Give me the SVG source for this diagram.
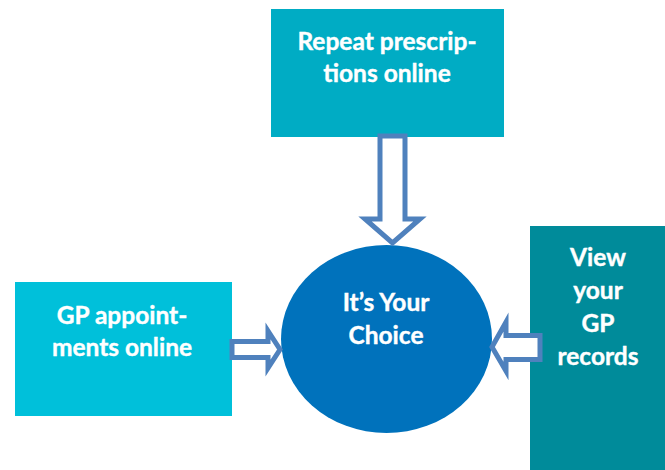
<svg xmlns="http://www.w3.org/2000/svg" width="665" height="470" viewBox="0 0 665 470">
<style>
.lbl{font-family:Lato,"Open Sans","Liberation Sans",sans-serif;font-weight:bold;font-size:24.5px;fill:#fff;text-anchor:middle;stroke:#fff;stroke-width:0.4}
.arr{fill:#fff;stroke:#4F81BD;stroke-width:5;stroke-linejoin:miter}
</style>
<rect width="665" height="470" fill="#fff"/>
<g id="repeat">
<rect x="271" y="9" width="233" height="128" fill="#00ACC4"/>
<text class="lbl" x="387" y="50">Repeat prescrip-</text>
<text class="lbl" x="387" y="82">tions online</text>
</g>
<g id="appointments">
<rect x="15" y="282" width="217" height="134" fill="#00C0DA"/>
<text class="lbl" x="122" y="324">GP appoint-</text>
<text class="lbl" x="122" y="356">ments online</text>
</g>
<g id="records">
<rect x="530" y="226" width="140" height="250" fill="#008B9A"/>
<text class="lbl" x="598" y="266">View</text>
<text class="lbl" x="598" y="299">your</text>
<text class="lbl" x="598" y="332">GP</text>
<text class="lbl" x="598" y="365">records</text>
</g>
<g id="choice">
<ellipse cx="386.5" cy="339" rx="105.5" ry="94" fill="#0072BC"/>
<text class="lbl" x="386" y="311">It’s Your</text>
<text class="lbl" x="386" y="344">Choice</text>
</g>
<g id="connectors">
<polygon class="arr" points="380,136 405,136 405,219 420,219 392.5,243 365,219 380,219"/>
<polygon class="arr" points="232,341.5 268,341.5 268,331 280,349.5 268,368 268,357.5 232,357.5"/>
<polygon class="arr" points="540,335.5 506,335.5 506,322 492,347 506,371 506,359.5 540,359.5"/>
</g>
</svg>
